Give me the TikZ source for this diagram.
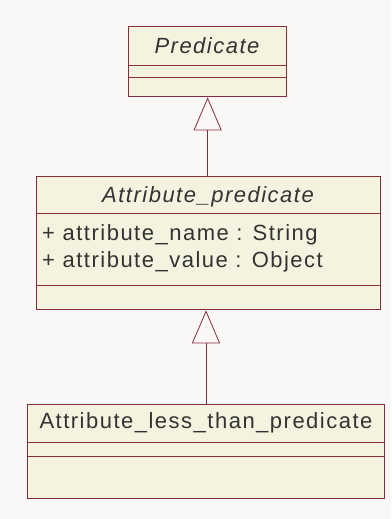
\documentclass[tikz,border=0pt]{standalone}
\usepackage{fontspec}
\setmainfont{Liberation Sans}[LetterSpace=6.8]
\usetikzlibrary{arrows.meta}
\definecolor{bgc}{RGB}{249,248,246}
\definecolor{boxfill}{RGB}{243,243,223}
\definecolor{edge}{RGB}{139,44,62}
\definecolor{txt}{RGB}{51,51,51}
\tikzset{
  classbox/.style={draw=edge, fill=boxfill, line width=1.3pt, rectangle, inner sep=0pt, anchor=north west},
  sep/.style={draw=edge, line width=0.9pt},
  title/.style={text=txt, font=\fontsize{22}{25}\selectfont, inner sep=0pt, anchor=center},
  attr/.style={text=txt, font=\fontsize{22}{25}\selectfont, inner sep=0pt, anchor=base west},
  gen/.style={draw=edge, line width=0.8pt, -{Triangle[open, length=33pt, width=28pt, line width=0.8pt]}}
}
\begin{document}
\begin{tikzpicture}[x=1pt, y=-1pt]
\fill[bgc] (0,0) rectangle (391,519);
\useasboundingbox (0,0) rectangle (391,519);
% Predicate
\node[classbox, minimum width=158pt, minimum height=70pt] (pred) at (128,26) {};
\node[title, font=\fontsize{22}{25}\selectfont\itshape] (predt) at (207,46) {Predicate};
\draw[sep] (128,65) -- (286,65);
\draw[sep] (128,77) -- (286,77);
% Attribute_predicate
\node[classbox, minimum width=344pt, minimum height=133pt] (ap) at (36,176) {};
\node[title, font=\fontsize{22}{25}\selectfont\itshape] (apt) at (208,197) {Attribute\_predicate};
\draw[sep] (36,213) -- (380,213);
\node[attr] (a1) at (42,240) {+ attribute\_name : String};
\node[attr] (a2) at (42,267) {+ attribute\_value : Object};
\draw[sep] (36,285) -- (380,285);
% Attribute_less_than_predicate
\node[classbox, minimum width=357pt, minimum height=94pt] (alt) at (27,404) {};
\node[title] (altt) at (206,423) {Attribute\_less\_than\_predicate};
\draw[sep] (27,442) -- (384,442);
\draw[sep] (27,456) -- (384,456);
% generalizations
\draw[gen] (ap.north -| pred.south) -- (pred.south);
\draw[gen] (alt.north -| 206,0) -- (ap.south -| 206,0);
\end{tikzpicture}
\end{document}
